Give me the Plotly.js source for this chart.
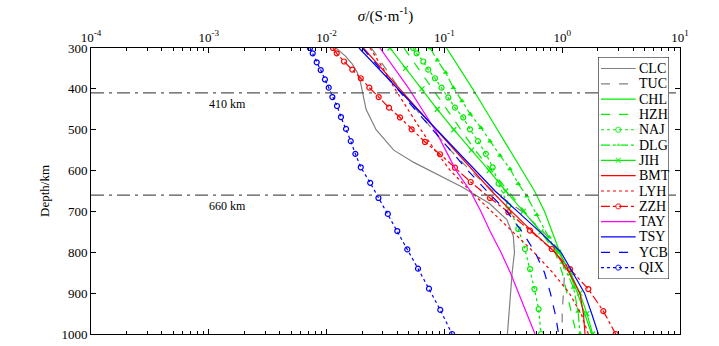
<!DOCTYPE html>
<html>
<head>
<meta charset="utf-8">
<script src="https://cdn.plot.ly/plotly-3.0.1.min.js"></script>
<style>html,body{margin:0;padding:0;background:#fff;}#chart{width:719px;height:346px;}</style>
</head>
<body>
<div id="chart"></div>
<script>
// Depth (km) grid shared by several profiles
var depthStd = [300,350,400,450,500,550,600,650,700,750,800,850,900,950,1000];

// log10 of conductivity (S/m)
var CLC_depth = [300,320,340,360,380,400,450,500,550,580,610,640,680,720,760,800,850,900,950,1000];
var CLC_log = [-1.92,-1.84,-1.78,-1.74,-1.715,-1.70,-1.665,-1.58,-1.43,-1.26,-1.06,-0.85,-0.62,-0.47,-0.415,-0.405,-0.425,-0.44,-0.455,-0.465];
var TUC_log = [-1.62,-1.50,-1.38,-1.24,-1.10,-0.95,-0.78,-0.59,-0.34,-0.16,-0.01,0.02,0.01,0.0,0.0];
var CHL_log = [-0.982,-0.87,-0.76,-0.655,-0.55,-0.45,-0.34,-0.235,-0.15,-0.085,-0.02,0.06,0.13,0.19,0.25];
var HZH_log = [-1.343,-1.22,-1.10,-0.98,-0.86,-0.74,-0.60,-0.46,-0.32,-0.18,-0.06,0.0,0.04,0.08,0.12];
var NAJ_depth = [300,313,333,353,374,397,421,446,470,499,528,559,592,632,686,743,792,841,890,939,1000];
var NAJ_log = [-1.265,-1.236,-1.179,-1.137,-1.08,-1.024,-0.967,-0.91,-0.84,-0.783,-0.715,-0.648,-0.59,-0.54,-0.457,-0.373,-0.316,-0.273,-0.236,-0.20,-0.18];
var DLG_depth = [300,330,360,397,430,462,495,528,563,596,632,663,708,763,825,886,945,1000];
var DLG_log = [-1.122,-1.06,-0.99,-0.924,-0.85,-0.78,-0.69,-0.613,-0.528,-0.443,-0.373,-0.30,-0.216,-0.11,0.0,0.096,0.135,0.151];
var JIH_log = [-1.462,-1.33,-1.19,-1.06,-0.92,-0.77,-0.62,-0.48,-0.33,-0.18,-0.03,0.07,0.15,0.21,0.258];
var BMT_log = [-1.687,-1.535,-1.38,-1.225,-1.07,-0.915,-0.76,-0.60,-0.43,-0.25,-0.06,0.06,0.15,0.18,0.194];
var LYH_log = [-1.632,-1.52,-1.42,-1.31,-1.20,-1.08,-0.95,-0.78,-0.60,-0.42,-0.24,-0.08,0.06,0.16,0.222];
var ZZH_depth = [300,313,333,353,374,397,420,446,470,499,530,560,593,628,667,702,747,792,841,890,944,1000];
var ZZH_log = [-1.946,-1.914,-1.852,-1.782,-1.71,-1.637,-1.558,-1.47,-1.377,-1.278,-1.165,-1.037,-0.91,-0.777,-0.613,-0.457,-0.273,-0.089,0.066,0.222,0.349,0.454];
var TAY_log = [-1.547,-1.42,-1.30,-1.19,-1.08,-0.99,-0.90,-0.78,-0.69,-0.61,-0.52,-0.44,-0.37,-0.30,-0.231];
var TSY_log = [-1.725,-1.56,-1.40,-1.235,-1.07,-0.905,-0.74,-0.57,-0.38,-0.19,-0.01,0.09,0.19,0.25,0.307];
var YCB_log = [-1.695,-1.55,-1.40,-1.25,-1.10,-0.95,-0.80,-0.64,-0.47,-0.34,-0.23,-0.15,-0.10,-0.06,-0.03];
var QIX_depth = [300,313,335,354,377,397,420,442,469,498,528,559,592,630,667,706,748,793,840,889,941,1000];
var QIX_log = [-2.141,-2.118,-2.084,-2.05,-2.014,-1.982,-1.951,-1.912,-1.878,-1.835,-1.795,-1.756,-1.71,-1.63,-1.56,-1.48,-1.40,-1.315,-1.224,-1.131,-1.035,-0.935];

// discontinuity depths and axis ticks
var boundaryDepths = [410, 660];
var boundaryLabels = ['410 km', '660 km'];
var xTickVals = [1e-4, 1e-3, 1e-2, 1e-1, 1, 10];
var xTickText = ['10<sup>-4</sup>','10<sup>-3</sup>','10<sup>-2</sup>','10<sup>-1</sup>','10<sup>0</sup>','10<sup>1</sup>'];
var yTickVals = [300,400,500,600,700,800,900,1000];

function toS(arr){ return arr.map(function(v){ return Math.pow(10, v); }); }

var GREEN = '#00ee00', RED = '#ff0000', MAG = '#ff00ff', BLUE = '#0000ff', GRAY = '#808080';
var FONT = 'Liberation Serif, Times New Roman, serif';

var circ = function(c){ return {symbol:'circle-open', size:5, color:c, line:{color:c, width:1.2}}; };

var series = [
  {name:'CLC', d:CLC_depth, v:CLC_log, c:GRAY, dash:'solid'},
  {name:'TUC', d:depthStd, v:TUC_log, c:GRAY, dash:'dash'},
  {name:'CHL', d:depthStd, v:CHL_log, c:GREEN, dash:'solid'},
  {name:'HZH', d:depthStd, v:HZH_log, c:GREEN, dash:'dash'},
  {name:'NAJ', d:NAJ_depth, v:NAJ_log, c:GREEN, dash:'dot', m:circ(GREEN)},
  {name:'DLG', d:DLG_depth, v:DLG_log, c:GREEN, dash:'dashdot', m:{symbol:'triangle-up', size:5, color:GREEN}},
  {name:'JIH', d:depthStd, v:JIH_log, c:GREEN, dash:'solid', m:{symbol:'x-thin', size:5, color:GREEN, line:{color:GREEN, width:1.2}}},
  {name:'BMT', d:depthStd, v:BMT_log, c:RED, dash:'solid'},
  {name:'LYH', d:depthStd, v:LYH_log, c:RED, dash:'dot'},
  {name:'ZZH', d:ZZH_depth, v:ZZH_log, c:RED, dash:'dashdot', m:circ(RED)},
  {name:'TAY', d:depthStd, v:TAY_log, c:MAG, dash:'solid'},
  {name:'TSY', d:depthStd, v:TSY_log, c:BLUE, dash:'solid'},
  {name:'YCB', d:depthStd, v:YCB_log, c:BLUE, dash:'dash'},
  {name:'QIX', d:QIX_depth, v:QIX_log, c:BLUE, dash:'dot', m:circ(BLUE)}
];

var data = [];
series.forEach(function(s){
  var t = {x: toS(s.v), y: s.d, name: s.name, type:'scatter', showlegend:false,
    mode: s.m ? 'lines+markers' : 'lines', line:{color:s.c, width:1.2, dash:s.dash}, xaxis:'x', yaxis:'y'};
  if (s.m) t.marker = s.m;
  data.push(t);
});

boundaryDepths.forEach(function(d){
  data.push({x: [xTickVals[0], xTickVals[xTickVals.length-1]], y: [d, d], type:'scatter', mode:'lines',
    showlegend:false, hoverinfo:'skip', xaxis:'x', yaxis:'y',
    line:{color:'#555555', width:1.2, dash:'13px,5px,3px,5px'}});
});

// Legend key samples, drawn on an inset axis (entry index on y, key width on x)
series.forEach(function(s, i){
  var key = {x:[0.04, 0.285, 0.53], y:[i+1, i+1, i+1], type:'scatter', showlegend:false, hoverinfo:'skip',
    xaxis:'x2', yaxis:'y2', mode: s.m ? 'lines+markers' : 'lines',
    line:{color:s.c, width:1.2, dash:s.dash}};
  if (s.m) { var mk = JSON.parse(JSON.stringify(s.m)); mk.size = [0, s.m.size, 0]; key.marker = mk; }
  data.push(key);
});

var minorVals = [];
for (var e = -4; e < 1; e++) { for (var m = 2; m <= 9; m++) { minorVals.push(m * Math.pow(10, e)); } }

var annotations = boundaryDepths.map(function(d, i){
  return {x: -2.84, y: d + 27, xref:'x', yref:'y', text: boundaryLabels[i], showarrow:false,
    font:{family:FONT, size:12, color:'#000'}};
});
series.forEach(function(s, i){
  annotations.push({x:0.55, y:i+1, xref:'x2', yref:'y2', text:s.name, showarrow:false, xanchor:'left',
    font:{family:FONT, size:14, color:'#000'}});
});

var axHidden = {showgrid:false, zeroline:false, showticklabels:false, ticks:'', showline:false, fixedrange:true};

var layout = {
  width: 719, height: 346,
  margin: {l: 91, r: 39, t: 48, b: 12, pad: 0},
  paper_bgcolor: '#fff', plot_bgcolor: '#fff',
  font: {family: FONT, size: 13, color: '#000'},
  showlegend: false,
  xaxis: {type:'log', side:'top', range:[-4, 1], tickmode:'array', tickvals:xTickVals, ticktext:xTickText,
    ticks:'inside', ticklen:5, tickcolor:'#000', showline:true, linecolor:'#000', linewidth:1, mirror:'ticks',
    showgrid:false, zeroline:false, domain:[0,1], anchor:'y',
    minor:{tickmode:'array', tickvals:minorVals, ticks:'inside', ticklen:3, tickcolor:'#000', showgrid:false},
    tickfont:{family:FONT, size:13},
    title:{text:'<i>σ</i>/(S·m<sup>-1</sup>)', font:{family:FONT, size:15}, standoff:3}},
  yaxis: {range:[1000, 300], tickmode:'array', tickvals:yTickVals, ticks:'inside', ticklen:5, tickcolor:'#000',
    showline:true, linecolor:'#000', linewidth:1, mirror:'ticks', showgrid:false, zeroline:false,
    domain:[0,1], anchor:'x',
    tickfont:{family:FONT, size:13},
    title:{text:'Depth/km', font:{family:FONT, size:13}, standoff:8}},
  xaxis2: Object.assign({domain:[0.861, 0.9813], range:[0, 1], anchor:'y2'}, axHidden),
  yaxis2: Object.assign({domain:[0.192, 0.9685], range:[14.75, 0.25], anchor:'x2'}, axHidden),
  shapes: [{type:'rect', xref:'x2', yref:'y2', x0:0, x1:1, y0:0.25, y1:14.75, layer:'below',
    fillcolor:'#ffffff', line:{color:'#000', width:1}}],
  annotations: annotations
};

Plotly.newPlot('chart', data, layout, {staticPlot:true, displayModeBar:false});
</script>
</body>
</html>
